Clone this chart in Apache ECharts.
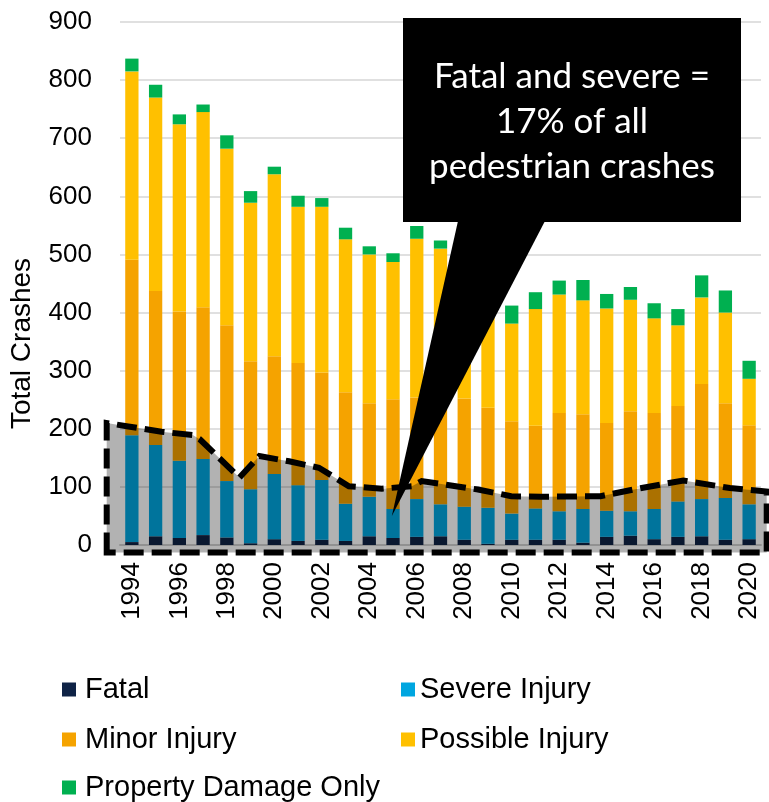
<!DOCTYPE html>
<html><head><meta charset="utf-8">
<script src="https://cdn.jsdelivr.net/npm/echarts@6/dist/echarts.min.js"></script>
<style>html,body{margin:0;padding:0;background:#fff}#c{width:769px;height:802px}</style>
</head><body><div id="c"></div>
<script>
const years = ['1994','1995','1996','1997','1998','1999','2000','2001','2002','2003','2004','2005','2006','2007','2008','2009','2010','2011','2012','2013','2014','2015','2016','2017','2018','2019','2020'];
const fatal    = [5,15,12,17,13,3,10,7,9,7,15,12,14,15,9,2,9,9,9,4,14,16,10,14,15,9,10];
const severe   = [184,157,133,131,97,93,112,96,103,64,68,50,65,55,57,62,45,54,49,58,45,42,52,61,64,72,60];
const minor    = [302,265,257,261,268,220,203,210,185,192,161,189,175,185,186,172,159,142,169,163,151,172,165,164,198,163,136];
const possible = [324,333,322,336,304,273,313,269,285,263,256,236,273,255,210,184,168,201,204,196,197,192,163,139,149,156,80];
const pdo      = [22,22,17,13,23,20,13,19,15,20,14,15,22,14,18,20,31,29,24,35,25,22,26,28,38,38,31];

// dashed "fatal + severe" outline: x in category-index units, y in crashes
const outlineX = [-1.06,-1.06,-0.15,1.25,2.58,2.86,4.53,5.37,6.62,7.88,9.14,10.53,11.79,12.21,13.18,14.58,15.98,17.23,19.74,21.14,22.54,23.23,25.19,26.74,26.74];
const outlineY = [-13,210,204,195,189,182,116,153,144,133,101,97,101,110,104,95.5,84,83,84,95.5,106,111,98,92,-13];

const yTicks = {min:0, max:900, interval:100};
const calloutLines = ['Fatal and severe =','17% of all','pedestrian crashes'];
const calloutTip = [10.95, 50];

const seriesNames = ['Fatal','Severe Injury','Minor Injury','Possible Injury','Property Damage Only'];
const colors = ['#0f2346','#00a6e0','#f5a300','#ffc000','#00b050'];
const seriesData = [fatal, severe, minor, possible, pdo];
// legend placement (one legend box per entry, two columns x three rows)
const legendLeft = [62, 401, 62, 401, 62];
const legendTop  = [675, 675, 725, 725, 773];

const chart = echarts.init(document.getElementById('c'), null, {renderer:'canvas'});
const outlineData = outlineX.map((x,i)=>[x, outlineY[i]]);
const font = 'Liberation Sans, Arial, sans-serif';

chart.setOption({
  animation:false,
  grid:{left:117, right:8, top:22, bottom:257, containLabel:false},
  xAxis:[{
    type:'category', data:years,
    axisLine:{lineStyle:{color:'#d0d0d0', width:2}},
    axisTick:{show:false},
    axisLabel:{interval:1, rotate:90, margin:17, fontSize:26, color:'#000', fontFamily:font}
  },{
    type:'value', min:-0.5, max:26.5, show:false
  }],
  yAxis:{
    type:'value', min:yTicks.min, max:yTicks.max, interval:yTicks.interval,
    axisLine:{show:false}, axisTick:{show:false},
    splitLine:{lineStyle:{color:'#e0e0e0', width:2}},
    axisLabel:{fontSize:26, color:'#000', margin:28, fontFamily:font},
    name:'Total Crashes', nameLocation:'middle', nameGap:84, nameRotate:90,
    nameTextStyle:{fontSize:28, color:'#000', fontFamily:font, padding:[0,120,0,0]}
  },
  legend:seriesNames.map((n,i)=>({
    data:[n], left:legendLeft[i], top:legendTop[i], padding:0,
    itemWidth:14, itemHeight:14, icon:'rect',
    textStyle:{fontSize:29, color:'#000', fontFamily:font, lineHeight:26, padding:[0,0,0,i%2?0:4]}
  })),
  series:seriesNames.map((n,i)=>({
    name:n, type:'bar', stack:'all', data:seriesData[i], barWidth:'56%',
    itemStyle:{color:colors[i]}, xAxisIndex:0, yAxisIndex:0
  })).concat([{
    type:'custom', xAxisIndex:1, yAxisIndex:0, z:5, clip:false,
    data:outlineData,
    renderItem:function(params, api){
      if(params.dataIndex!==0) return null;
      const pts = outlineData.map(p=>api.coord(p));
      return {type:'polygon', shape:{points:pts},
        style:{fill:'rgba(0,0,0,0.3)', stroke:'#000', lineWidth:6, lineDash:[20,8], lineCap:'butt'}};
    }
  }])
});

const tip = chart.convertToPixel({seriesIndex:5}, calloutTip);
const box = {x:403, y:18, w:338, h:204};
chart.setOption({
  graphic:[
    {type:'polygon', z:100, shape:{points:[[458, box.y+box.h-1],[545, box.y+box.h-1], tip]}, style:{fill:'#000'}},
    {type:'rect', z:100, shape:{x:box.x, y:box.y, width:box.w, height:box.h}, style:{fill:'#000'}},
    {type:'text', z:101, x:box.x+box.w/2, y:box.y+104, style:{text:calloutLines.join('\n'), fill:'#fff',
      font:'35px Lato, "Open Sans", sans-serif', align:'center', verticalAlign:'middle', lineHeight:45}}
  ]
});
</script></body></html>
